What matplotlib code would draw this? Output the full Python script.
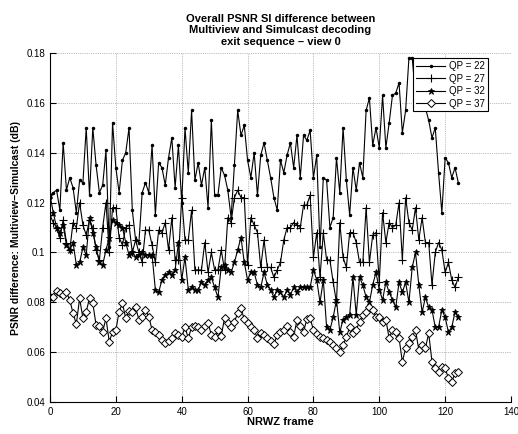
import matplotlib
matplotlib.use("Agg")
import matplotlib.pyplot as plt
import numpy as np

plt.rcParams['font.family'] = ['Liberation Sans', 'DejaVu Sans']

# Data (frames 0..124)
frames = np.arange(125)

qp22 = [0.122, 0.124, 0.125, 0.117, 0.144, 0.125, 0.130, 0.126, 0.116, 0.129,
        0.128, 0.150, 0.123, 0.150, 0.135, 0.124, 0.127, 0.141, 0.102, 0.152,
        0.134, 0.124, 0.137, 0.140, 0.150, 0.117, 0.105, 0.104, 0.124, 0.128,
        0.124, 0.143, 0.115, 0.136, 0.134, 0.127, 0.138, 0.146, 0.126, 0.143,
        0.120, 0.150, 0.132, 0.157, 0.129, 0.136, 0.127, 0.134, 0.118, 0.153,
        0.123, 0.123, 0.134, 0.131, 0.125, 0.114, 0.135, 0.157, 0.147, 0.151,
        0.137, 0.130, 0.140, 0.123, 0.139, 0.144, 0.137, 0.130, 0.122, 0.117,
        0.137, 0.132, 0.139, 0.144, 0.134, 0.147, 0.130, 0.147, 0.145, 0.149,
        0.130, 0.139, 0.102, 0.130, 0.129, 0.110, 0.114, 0.138, 0.124, 0.150,
        0.129, 0.115, 0.134, 0.125, 0.136, 0.130, 0.157, 0.162, 0.143, 0.150,
        0.142, 0.163, 0.142, 0.152, 0.163, 0.164, 0.168, 0.148, 0.157, 0.178,
        0.178, 0.163, 0.172, 0.165, 0.158, 0.153, 0.146, 0.150, 0.132, 0.116,
        0.138, 0.136, 0.130, 0.134, 0.128]

qp27 = [0.115, 0.112, 0.110, 0.106, 0.113, 0.104, 0.101, 0.112, 0.110, 0.120,
        0.111, 0.107, 0.113, 0.110, 0.101, 0.097, 0.110, 0.120, 0.100, 0.118,
        0.118, 0.106, 0.103, 0.110, 0.111, 0.100, 0.105, 0.100, 0.096, 0.109,
        0.109, 0.103, 0.096, 0.109, 0.108, 0.112, 0.101, 0.114, 0.097, 0.097,
        0.122, 0.105, 0.105, 0.117, 0.093, 0.093, 0.093, 0.104, 0.092, 0.100,
        0.093, 0.093, 0.101, 0.093, 0.114, 0.112, 0.122, 0.125, 0.122, 0.122,
        0.095, 0.114, 0.111, 0.108, 0.094, 0.105, 0.094, 0.094, 0.090, 0.093,
        0.096, 0.105, 0.110, 0.110, 0.112, 0.111, 0.110, 0.119, 0.119, 0.123,
        0.098, 0.108, 0.090, 0.108, 0.097, 0.097, 0.088, 0.080, 0.112, 0.098,
        0.094, 0.108, 0.108, 0.104, 0.096, 0.096, 0.118, 0.096, 0.107, 0.108,
        0.088, 0.116, 0.104, 0.112, 0.110, 0.111, 0.120, 0.097, 0.122, 0.112,
        0.109, 0.118, 0.105, 0.114, 0.104, 0.104, 0.087, 0.100, 0.104, 0.101,
        0.092, 0.096, 0.089, 0.086, 0.090]

qp32 = [0.123, 0.116, 0.110, 0.108, 0.111, 0.103, 0.101, 0.104, 0.095, 0.096,
        0.102, 0.099, 0.114, 0.108, 0.102, 0.096, 0.095, 0.101, 0.106, 0.113,
        0.112, 0.111, 0.110, 0.104, 0.099, 0.100, 0.098, 0.099, 0.100, 0.099,
        0.099, 0.099, 0.085, 0.084, 0.089, 0.091, 0.092, 0.091, 0.093, 0.104,
        0.089, 0.098, 0.085, 0.086, 0.085, 0.085, 0.088, 0.087, 0.089, 0.090,
        0.086, 0.082, 0.094, 0.095, 0.093, 0.092, 0.096, 0.101, 0.106, 0.096,
        0.089, 0.092, 0.092, 0.087, 0.086, 0.092, 0.087, 0.085, 0.082, 0.085,
        0.084, 0.082, 0.085, 0.083, 0.086, 0.084, 0.086, 0.086, 0.086, 0.086,
        0.093, 0.089, 0.080, 0.089, 0.070, 0.069, 0.074, 0.081, 0.068, 0.073,
        0.074, 0.075, 0.090, 0.075, 0.090, 0.087, 0.082, 0.080, 0.087, 0.092,
        0.085, 0.081, 0.088, 0.084, 0.081, 0.078, 0.088, 0.084, 0.088, 0.080,
        0.094, 0.100, 0.087, 0.076, 0.082, 0.078, 0.077, 0.070, 0.070, 0.077,
        0.074, 0.068, 0.070, 0.076, 0.074]

qp37 = [0.0820, 0.0823, 0.0847, 0.0836, 0.0830, 0.0840, 0.0810, 0.0756, 0.0713, 0.0816,
        0.0736, 0.0763, 0.0816, 0.0796, 0.0709, 0.0703, 0.0682, 0.0736, 0.0642, 0.0682,
        0.0689, 0.0763, 0.0796, 0.0736, 0.0767, 0.0760, 0.0780, 0.0730, 0.0743, 0.0770,
        0.0743, 0.0689, 0.0679, 0.0669, 0.0649, 0.0636, 0.0646, 0.0656, 0.0676, 0.0669,
        0.0660, 0.0700, 0.0656, 0.0700, 0.0703, 0.0700, 0.0689, 0.0705, 0.0718, 0.0669,
        0.0662, 0.0689, 0.0665, 0.0736, 0.0716, 0.0700, 0.0723, 0.0756, 0.0776, 0.0732,
        0.0716, 0.0702, 0.0689, 0.0656, 0.0676, 0.0669, 0.0656, 0.0646, 0.0633, 0.0669,
        0.0682, 0.0689, 0.0705, 0.0679, 0.0662, 0.0729, 0.0705, 0.0682, 0.0732, 0.0736,
        0.0689, 0.0672, 0.0662, 0.0656, 0.0649, 0.0642, 0.0629, 0.0616, 0.0600, 0.0630,
        0.0660, 0.0700, 0.0676, 0.0690, 0.0722, 0.0749, 0.0760, 0.0780, 0.0770, 0.0742,
        0.0742, 0.0722, 0.0730, 0.0656, 0.0689, 0.0682, 0.0656, 0.0562, 0.0616, 0.0636,
        0.0660, 0.0689, 0.0609, 0.0629, 0.0616, 0.0676, 0.0562, 0.0535, 0.0522, 0.0542,
        0.0535, 0.0495, 0.0482, 0.0515, 0.0522]

labels = ['QP = 22', 'QP = 27', 'QP = 32', 'QP = 37']
xticks = [0, 20, 40, 60, 80, 100, 120, 140]
yticks = [0.04, 0.06, 0.08, 0.1, 0.12, 0.14, 0.16, 0.18]
ytick_labels = ['0.04', '0.06', '0.08', '0.1', '0.12', '0.14', '0.16', '0.18']

fig = plt.figure(figsize=(5.18, 4.34), dpi=100)
ax = fig.add_axes([0.0965, 0.0737, 0.89, 0.804])

ax.plot(frames, qp22, '-', color='k', lw=0.8, marker='.', ms=3, label=labels[0])
ax.plot(frames, qp27, '-', color='k', lw=0.8, marker='+', ms=5.5, mew=0.8, label=labels[1])
ax.plot(frames, qp32, '-', color='k', lw=0.8, marker='*', ms=4.5, mew=0.6, label=labels[2])
ax.plot(frames, qp37, '-', color='k', lw=0.8, marker='D', ms=4.5, mew=0.7,
        mfc='white', mec='k', label=labels[3])

ax.set_xlim(0, 140)
ax.set_ylim(0.04, 0.18)
ax.set_xticks(xticks)
ax.set_yticks(yticks)
ax.set_yticklabels(ytick_labels)
ax.tick_params(direction='in', length=4, width=0.8, labelsize=7)
ax.spines['top'].set_visible(False)
ax.spines['right'].set_visible(False)
ax.grid(True, linestyle=':', color='k', lw=0.5, alpha=0.5)

ax.set_title('Overall PSNR SI difference between\nMultiview and Simulcast decoding\nexit sequence \u2013 view 0',
             fontsize=8, fontweight='bold', linespacing=1.2, pad=6)
ax.set_xlabel('NRWZ frame', fontsize=8, fontweight='bold', labelpad=0)
ax.set_ylabel('PSNR difference: Multiview\u2212Simulcast (dB)', fontsize=7.5, fontweight='bold', labelpad=4)

leg = ax.legend(loc='upper right', bbox_to_anchor=(0.95, 0.985), fontsize=7,
                fancybox=False, edgecolor='k', framealpha=1, handlelength=3.0,
                borderpad=0.3, labelspacing=0.25, handletextpad=0.4, borderaxespad=0)
leg.get_frame().set_linewidth(0.8)

fig.savefig('out.png', dpi=100)
